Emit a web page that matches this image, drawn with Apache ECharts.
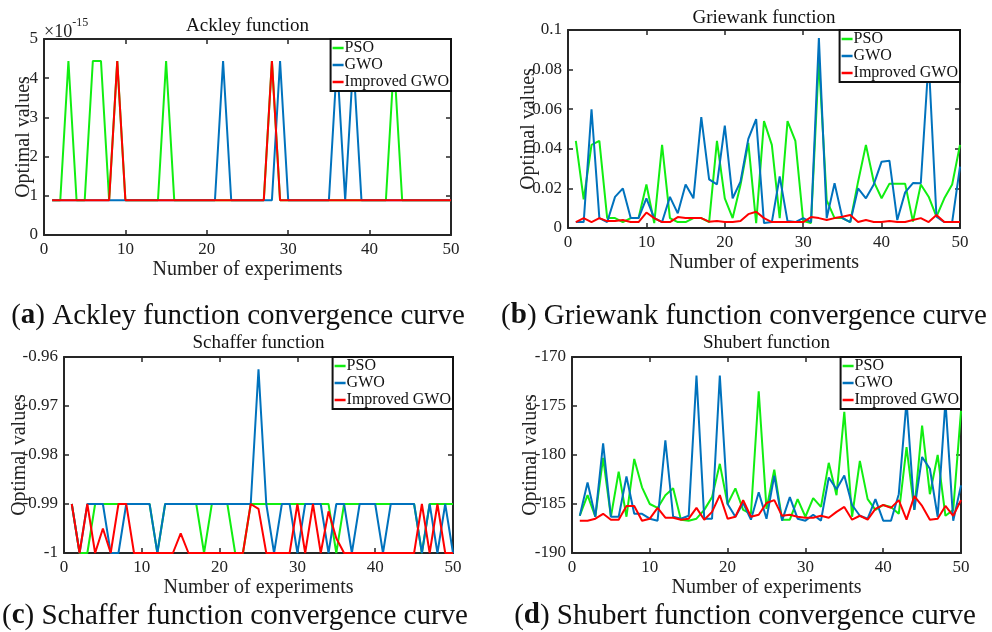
<!DOCTYPE html>
<html>
<head>
<meta charset="utf-8">
<title>Convergence curves</title>
<script src="https://cdn.jsdelivr.net/npm/echarts@6/dist/echarts.min.js"></script>
<style>
  html, body { margin: 0; padding: 0; background: #fff; }
  #main { width: 992px; height: 632px; }
</style>
</head>
<body>
<div id="main"></div>
<script type="text/javascript">
// experiment numbers (x axis)
var experiments = [1,2,3,4,5,6,7,8,9,10,11,12,13,14,15,16,17,18,19,20,21,22,23,24,25,
                   26,27,28,29,30,31,32,33,34,35,36,37,38,39,40,41,42,43,44,45,46,47,48,49,50];
var seriesNames = ['PSO', 'GWO', 'Improved GWO'];

// (a) Ackley, values in units of 1e-15
var ackleyPSO  = [0.888,0.888,4.44,0.888,0.888,4.44,4.44,0.888,4.44,0.888,
                  0.888,0.888,0.888,0.888,4.44,0.888,0.888,0.888,0.888,0.888,
                  0.888,0.888,0.888,0.888,0.888,0.888,0.888,4.44,0.888,0.888,
                  0.888,0.888,0.888,0.888,0.888,0.888,0.888,0.888,0.888,0.888,
                  0.888,0.888,4.44,0.888,0.888,0.888,0.888,0.888,0.888,0.888];
var ackleyGWO  = [0.888,0.888,0.888,0.888,0.888,0.888,0.888,0.888,0.888,0.888,
                  0.888,0.888,0.888,0.888,0.888,0.888,0.888,0.888,0.888,0.888,
                  0.888,4.44,0.888,0.888,0.888,0.888,0.888,0.888,4.44,0.888,
                  0.888,0.888,0.888,0.888,0.888,4.44,0.888,4.44,0.888,0.888,
                  0.888,0.888,0.888,0.888,0.888,0.888,0.888,0.888,0.888,0.888];
var ackleyIGWO = [0.888,0.888,0.888,0.888,0.888,0.888,0.888,0.888,4.44,0.888,
                  0.888,0.888,0.888,0.888,0.888,0.888,0.888,0.888,0.888,0.888,
                  0.888,0.888,0.888,0.888,0.888,0.888,0.888,4.44,0.888,0.888,
                  0.888,0.888,0.888,0.888,0.888,0.888,0.888,0.888,0.888,0.888,
                  0.888,0.888,0.888,0.888,0.888,0.888,0.888,0.888,0.888,0.888];

// (b) Griewank
var griewankPSO  = [0.044,0.0145,0.042,0.044,0.005,0.005,0.003,0.005,0.005,0.022,
                    0.0025,0.042,0.005,0.003,0.003,0.005,0.005,0.003,0.044,0.015,
                    0.005,0.0217,0.043,0.0025,0.054,0.042,0.005,0.054,0.044,0.0035,
                    0.0025,0.085,0.014,0.005,0.005,0.003,0.0234,0.042,0.0234,0.015,
                    0.0224,0.0224,0.0224,0.0032,0.022,0.0158,0.0057,0.015,0.022,0.042];
var griewankGWO  = [0.003,0.003,0.060,0.005,0.003,0.0157,0.020,0.005,0.005,0.015,
                    0.005,0.003,0.0157,0.0074,0.022,0.015,0.056,0.0246,0.022,0.0517,
                    0.015,0.0234,0.045,0.055,0.0025,0.003,0.026,0.0035,0.003,0.005,
                    0.003,0.096,0.005,0.0226,0.005,0.003,0.020,0.015,0.022,0.0335,
                    0.034,0.004,0.018,0.0227,0.0226,0.085,0.0057,0.003,0.003,0.031];
var griewankIGWO = [0.003,0.005,0.003,0.005,0.0035,0.0035,0.004,0.003,0.003,0.0078,
                    0.005,0.003,0.003,0.0055,0.005,0.005,0.005,0.0032,0.0035,0.003,
                    0.003,0.0035,0.007,0.0082,0.005,0.003,0.003,0.003,0.003,0.003,
                    0.0055,0.005,0.004,0.005,0.0057,0.0066,0.003,0.004,0.003,0.003,
                    0.0035,0.003,0.003,0.004,0.005,0.003,0.0066,0.003,0.003,0.003];

// (c) Schaffer
var schafferPSO  = [-0.99,-1,-1,-0.99,-0.99,-0.99,-0.99,-0.99,-0.99,-0.99,
                    -0.99,-1,-0.99,-0.99,-0.99,-0.99,-0.99,-1,-0.99,-0.99,
                    -0.99,-1,-1,-0.99,-0.99,-0.99,-0.99,-0.99,-0.99,-0.99,
                    -0.99,-0.99,-0.99,-0.99,-1,-0.99,-0.99,-0.99,-0.99,-0.99,
                    -0.99,-0.99,-0.99,-0.99,-0.99,-1,-0.99,-0.99,-0.99,-0.99];
var schafferGWO  = [-0.99,-1,-0.99,-0.99,-0.99,-1,-1,-0.99,-0.99,-0.99,
                    -0.99,-1,-0.99,-0.99,-0.99,-0.99,-0.99,-0.99,-0.99,-0.99,
                    -0.99,-0.99,-0.99,-0.99,-0.9625,-0.99,-1,-0.99,-0.99,-1,
                    -0.99,-0.99,-0.99,-1,-0.99,-0.99,-1,-0.99,-0.99,-0.99,
                    -1,-0.99,-0.99,-0.99,-0.99,-1,-0.99,-1,-0.99,-1];
var schafferIGWO = [-0.99,-1,-0.99,-1,-0.995,-1,-0.99,-0.99,-1,-1,
                    -1,-1,-1,-1,-0.996,-1,-1,-1,-1,-1,
                    -1,-1,-1,-0.99,-0.991,-1,-1,-1,-1,-0.99,
                    -1,-0.99,-1,-0.9915,-0.997,-1,-1,-1,-1,-1,
                    -1,-1,-1,-1,-1,-0.99,-1,-0.99,-1,-1];

// (d) Shubert
var shubertPSO  = [-186.2,-184.1,-186.3,-180.3,-186.3,-181.7,-186.3,-180.4,-183.3,-185.0,
                   -185.4,-184.1,-183.4,-186.6,-186.7,-186.5,-185.6,-184.3,-180.9,-185.0,
                   -183.4,-185.6,-186.0,-173.5,-185.5,-181.5,-186.6,-186.6,-184.5,-186.3,
                   -184.4,-185.3,-180.8,-184.1,-175.6,-186.3,-180.6,-184.5,-185.6,-185.1,
                   -185.3,-186.0,-179.2,-185.6,-177.0,-184.0,-180.0,-186.2,-185.6,-175.5];
var shubertGWO  = [-186.2,-182.8,-186.3,-178.8,-186.3,-186.3,-182.2,-186.0,-186.0,-186.5,
                   -186.7,-178.5,-186.3,-186.5,-186.2,-171.9,-186.5,-186.5,-171.9,-185.0,
                   -186.3,-184.9,-186.6,-183.8,-186.5,-182.1,-186.7,-184.3,-186.5,-186.7,
                   -186.1,-186.7,-182.3,-183.5,-182.1,-185.1,-186.2,-186.5,-184.5,-186.7,
                   -186.7,-184.0,-174.5,-185.6,-180.2,-181.4,-186.3,-174.5,-186.7,-183.1];
var shubertIGWO = [-186.7,-186.7,-186.5,-186.0,-186.6,-186.6,-185.2,-185.2,-186.7,-186.5,
                   -185.4,-186.4,-186.4,-186.6,-186.5,-185.4,-186.6,-185.8,-184.1,-186.5,
                   -186.3,-184.6,-186.3,-186.1,-184.9,-184.6,-186.2,-186.1,-186.3,-186.4,
                   -186.4,-186.2,-186.4,-185.8,-185.3,-186.6,-186.2,-186.6,-185.5,-185.1,
                   -185.4,-184.6,-186.6,-184.2,-185.2,-186.6,-186.5,-185.2,-186.2,-184.6];

var FONT = '"Liberation Serif", "DejaVu Serif", serif';
var INK = '#262626';
var colors = ['#11ee11', '#0072bd', '#ff0000'];

// panel layout: grid box, y range, axis-name gap, title centre y
var panels = [
    {title: 'Ackley function',   grid: [44, 39, 407, 196],  y: [0, 5, 1],         gap: 10, ty: 26,
     data: [ackleyPSO, ackleyGWO, ackleyIGWO]},
    {title: 'Griewank function', grid: [568, 30, 392, 198], y: [0, 0.1, 0.02],    gap: 29, ty: 18,
     data: [griewankPSO, griewankGWO, griewankIGWO]},
    {title: 'Schaffer function', grid: [64, 357, 389, 196], y: [-1, -0.96, 0.01], gap: 34, ty: 343,
     data: [schafferPSO, schafferGWO, schafferIGWO]},
    {title: 'Shubert function',  grid: [572, 357, 389, 196], y: [-190, -170, 5],  gap: 31, ty: 343,
     data: [shubertPSO, shubertGWO, shubertIGWO]}
];

var captions = [
    {k: 'a', t: ' Ackley function convergence curve',   x: 238, y: 316},
    {k: 'b', t: ' Griewank function convergence curve', x: 744, y: 316},
    {k: 'c', t: ' Schaffer function convergence curve', x: 235, y: 616},
    {k: 'd', t: ' Shubert function convergence curve',  x: 745, y: 616}
];

function pairs(arr) {
    return experiments.map(function (e, i) { return [e, arr[i]]; });
}

var option = {
    animation: false,
    backgroundColor: '#fff',
    grid: [], xAxis: [], yAxis: [], series: [], legend: [], graphic: []
};

panels.forEach(function (p, k) {
    var g = p.grid;
    option.grid.push({left: g[0], top: g[1], width: g[2], height: g[3], containLabel: false});
    var tick = {show: true, inside: true, length: 5, lineStyle: {color: INK, width: 1.5}};
    var line = {show: true, onZero: false, lineStyle: {color: INK, width: 2}};
    var lbl = {color: '#222', fontFamily: FONT, fontSize: 17, margin: 6};
    option.xAxis.push({
        type: 'value', gridIndex: k, min: 0, max: 50, interval: 10, position: 'bottom',
        axisLine: line, axisTick: tick, axisLabel: lbl, splitLine: {show: false},
        name: 'Number of experiments', nameLocation: 'middle', nameGap: 25, nameMoveOverlap: false,
        nameTextStyle: {color: '#222', fontFamily: FONT, fontSize: 20}
    });
    option.xAxis.push({
        type: 'value', gridIndex: k, min: 0, max: 50, interval: 10, position: 'top',
        axisLine: line, axisTick: tick, axisLabel: {show: false}, splitLine: {show: false}
    });
    option.yAxis.push({
        type: 'value', gridIndex: k, min: p.y[0], max: p.y[1], interval: p.y[2], position: 'left',
        axisLine: line, axisTick: tick, axisLabel: lbl, splitLine: {show: false},
        name: 'Optimal values', nameLocation: 'middle', nameGap: p.gap, nameMoveOverlap: false,
        nameTextStyle: {color: '#222', fontFamily: FONT, fontSize: 20}
    });
    option.yAxis.push({
        type: 'value', gridIndex: k, min: p.y[0], max: p.y[1], interval: p.y[2], position: 'right',
        axisLine: line, axisTick: tick, axisLabel: {show: false}, splitLine: {show: false}
    });
    var ids = [];
    p.data.forEach(function (arr, s) {
        var id = 'p' + k + '_' + s;
        ids.push({name: id, icon: 'rect'});
        option.series.push({
            id: id, name: id, type: 'line', xAxisIndex: 2 * k, yAxisIndex: 2 * k,
            data: pairs(arr), showSymbol: false, symbol: 'none',
            lineStyle: {color: colors[s], width: 2}, itemStyle: {color: colors[s]}
        });
    });
    // legend box sits in the top-right corner of the plot
    option.legend.push({
        data: ids, orient: 'vertical', right: 992 - (g[0] + g[2]), top: g[1],
        backgroundColor: '#fff', borderColor: '#111', borderWidth: 2,
        padding: [1, 2, 1, 2], itemGap: 1, itemWidth: 11, itemHeight: 2.5,
        selectedMode: false, z: 10,
        formatter: function (n) { return seriesNames[+n.split('_')[1]]; },
        textStyle: {color: '#111', fontFamily: FONT, fontSize: 16, padding: [0, 0, 0, -4]}
    });
    option.graphic.push({
        type: 'text', x: g[0] + g[2] / 2, y: p.ty,
        style: {text: p.title, font: '19px ' + FONT, fill: '#111',
                textAlign: 'center', textVerticalAlign: 'middle'}
    });
});

// exponent label of the Ackley y axis
option.graphic.push({
    type: 'text', left: 44, top: 17,
    style: {
        text: '{b|\u00d710}{s|-15}',
        rich: {b: {font: '18px ' + FONT, fill: '#222', padding: [6, 0, 0, 0]},
               s: {font: '12px ' + FONT, fill: '#222', verticalAlign: 'top'}}
    }
});

captions.forEach(function (c) {
    option.graphic.push({
        type: 'text', x: c.x, y: c.y,
        style: {
            text: '({k|' + c.k + '}){t|' + c.t + '}',
            textAlign: 'center', textVerticalAlign: 'middle',
            font: '29px ' + FONT, fill: '#111',
            rich: {k: {font: 'bold 29px ' + FONT, fill: '#111'},
                   t: {font: '29px ' + FONT, fill: '#111'}}
        }
    });
});

var chart = echarts.init(document.getElementById('main'));
chart.setOption(option);
</script>
</body>
</html>
